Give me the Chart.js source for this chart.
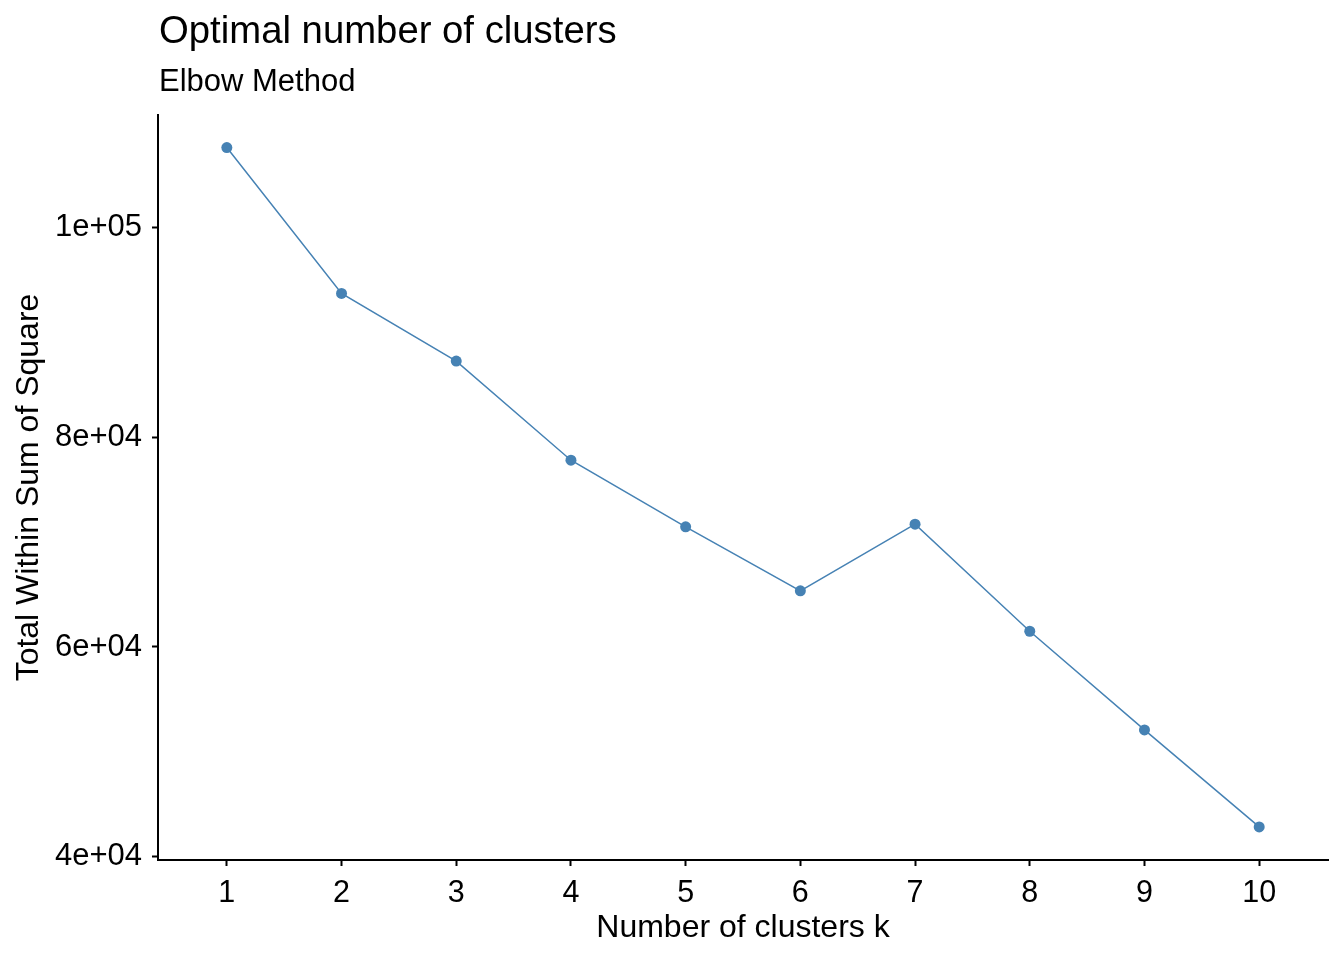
<!DOCTYPE html>
<html>
<head>
<meta charset="utf-8">
<script src="https://cdn.jsdelivr.net/npm/chart.js@4/dist/chart.umd.min.js"></script>
<style>
  html, body { margin: 0; padding: 0; background: #fff; }
  #wrap { width: 1344px; height: 960px; }
</style>
</head>
<body>
<div id="wrap"><canvas id="myChart" width="1344" height="960"></canvas></div>
<script>
const clusters = [1, 2, 3, 4, 5, 6, 7, 8, 9, 10];
const wss = [107600, 93700, 87250, 77800, 71450, 65350, 71700, 61500, 52100, 42850];
const yTicks = [40000, 60000, 80000, 100000];
const yTickLabels = ['4e+04', '6e+04', '8e+04', '1e+05'];

const FONT = "'Liberation Sans', Arial, sans-serif";

// ggplot-style title + subtitle, left aligned with the plot panel
const titles = {
    id: 'titles',
    afterDraw(chart) {
        const c = chart.ctx;
        const x = chart.chartArea.left + 1;
        c.save();
        c.fillStyle = '#000';
        c.textAlign = 'left';
        c.textBaseline = 'alphabetic';
        c.font = '38.3px ' + FONT;
        c.fillText('Optimal number of clusters', x, 43);
        c.font = '31px ' + FONT;
        c.fillText('Elbow Method', x, 91);
        c.restore();
    }
};

const ctx = document.getElementById('myChart').getContext('2d');

const chart = new Chart(ctx, {
    type: 'line',
    data: {
        datasets: [{
            data: clusters.map((k, i) => ({ x: k, y: wss[i] })),
            borderColor: '#4682B4',
            backgroundColor: '#4682B4',
            borderWidth: 1.5,
            pointRadius: 5.5,
            pointBorderWidth: 0,
            tension: 0
        }]
    },
    options: {
        responsive: false,
        animation: false,
        layout: { padding: { top: 115, right: 16, left: 0, bottom: 0 } },
        plugins: {
            legend: { display: false },
            tooltip: { enabled: false }
        },
        scales: {
            x: {
                type: 'linear',
                min: 0.4,
                max: 10.6,
                afterBuildTicks: s => { s.ticks = clusters.map(v => ({ value: v })); },
                afterFit: s => { s.height = 100; },
                ticks: {
                    color: '#000',
                    font: { family: FONT, size: 30.5 },
                    padding: 9,
                    maxRotation: 0,
                    callback: v => String(v)
                },
                grid: { drawOnChartArea: false, drawTicks: true, tickLength: 6, color: '#000', tickWidth: 2 },
                border: { display: true, color: '#000', width: 2 },
                title: {
                    display: true,
                    text: 'Number of clusters k',
                    color: '#000',
                    font: { family: FONT, size: 32 },
                    padding: { top: 0, bottom: 13 }
                }
            },
            y: {
                min: 39700,
                max: 110700,
                afterBuildTicks: s => { s.ticks = yTicks.map(v => ({ value: v })); },
                afterFit: s => { s.width = 158; },
                ticks: {
                    color: '#000',
                    font: { family: FONT, size: 31 },
                    padding: 10,
                    callback: v => yTickLabels[yTicks.indexOf(v)]
                },
                grid: { drawOnChartArea: false, drawTicks: true, tickLength: 6, color: '#000', tickWidth: 2 },
                border: { display: true, color: '#000', width: 2 },
                title: {
                    display: true,
                    text: 'Total Within Sum of Square',
                    color: '#000',
                    font: { family: FONT, size: 32 },
                    padding: { top: 10, bottom: 0 }
                }
            }
        }
    },
    plugins: [titles]
});
</script>
</body>
</html>
